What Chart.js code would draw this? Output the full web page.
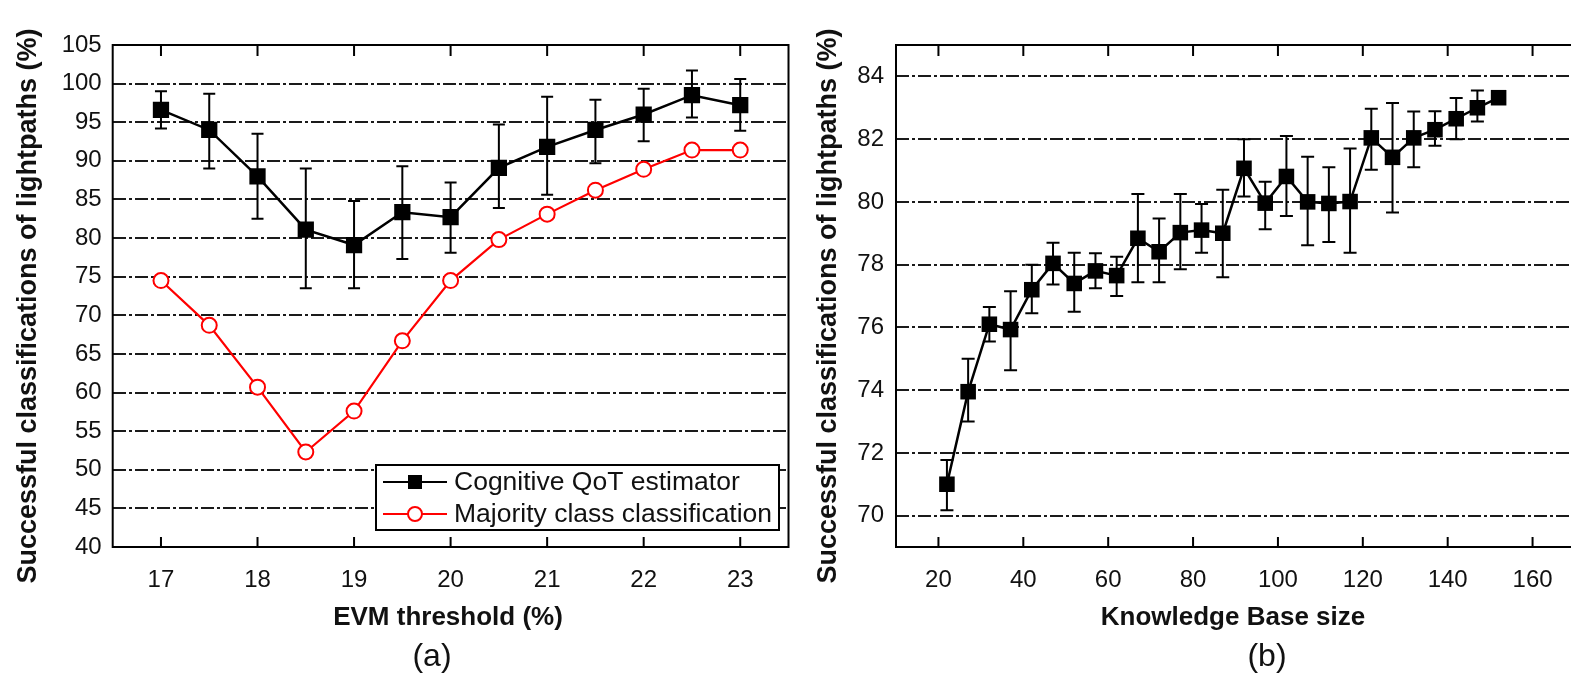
<!DOCTYPE html>
<html><head><meta charset="utf-8">
<script src="https://cdn.jsdelivr.net/npm/chart.js@4.4.1/dist/chart.umd.min.js"></script>
<style>
html,body{margin:0;padding:0;background:#fff;overflow:hidden;width:1571px;height:677px;position:relative;}
#ca{position:absolute;left:0;top:0;}
#cb{position:absolute;left:800px;top:0;}
</style></head><body>
<canvas id="ca" width="800" height="677"></canvas>
<canvas id="cb" width="800" height="677"></canvas>
<script>
// ---------- Panel (a) data ----------
const evmThreshold = [17, 17.5, 18, 18.5, 19, 19.5, 20, 20.5, 21, 21.5, 22, 22.5, 23];
const cognitiveA   = [96.6, 94.0, 88.0, 81.1, 79.1, 83.35, 82.7, 89.1, 91.8, 94.0, 96.0, 98.5, 97.2];
const cognitiveALo = [94.2, 89.0, 82.5, 73.5, 73.5, 77.3, 78.1, 83.9, 85.6, 89.7, 92.55, 95.6, 93.9];
const cognitiveAHi = [99.0, 98.7, 93.5, 89.0, 84.8, 89.3, 87.2, 94.7, 98.3, 97.9, 99.35, 101.7, 100.6];
const majorityA    = [74.5, 68.7, 60.7, 52.3, 57.6, 66.7, 74.5, 79.8, 83.1, 86.2, 88.9, 91.4, 91.4];
const xTicksA = [17, 18, 19, 20, 21, 22, 23];
const yTicksA = [40, 45, 50, 55, 60, 65, 70, 75, 80, 85, 90, 95, 100, 105];

// ---------- Panel (b) data ----------
const kbSize = [22, 27, 32, 37, 42, 47, 52, 57, 62, 67, 72, 77, 82, 87, 92, 97, 102, 107, 112, 117, 122, 127, 132, 137, 142, 147, 152];
const cognitiveB   = [71.0, 73.95, 76.1, 75.93, 77.2, 78.04, 77.4, 77.8, 77.65, 78.84, 78.41, 79.02, 79.1, 79.0, 81.07, 79.96, 80.81, 80.0, 79.95, 80.01, 82.04, 81.42, 82.04, 82.3, 82.65, 83.0, 83.32];
const cognitiveBLo = [70.17, 73.0, 75.55, 74.63, 76.45, 77.37, 76.5, 77.25, 77.0, 77.44, 77.44, 77.85, 78.38, 77.6, 80.17, 79.13, 79.55, 78.62, 78.72, 78.38, 81.02, 79.66, 81.1, 81.79, 82.0, 82.56, 83.22];
const cognitiveBHi = [71.77, 75.0, 76.65, 77.15, 78.0, 78.7, 78.38, 78.36, 78.25, 80.25, 79.47, 80.25, 79.93, 80.39, 82.0, 80.64, 82.1, 81.44, 81.1, 81.7, 82.97, 83.15, 82.88, 82.89, 83.31, 83.55, 83.42];
const xTicksB = [20, 40, 60, 80, 100, 120, 140, 160];
const yTicksB = [70, 72, 74, 76, 78, 80, 82, 84];

const yTitle = 'Successful classifications of lightpaths (%)';
const FONT = "'Liberation Sans', Arial, Helvetica, sans-serif";

function pts(xs, ys){ return xs.map((x,i)=>({x:x, y:ys[i]})); }

function makeDeco(cfg){
  return {
    id: 'deco',
    beforeDatasetsDraw(chart){
      const ctx = chart.ctx, x = chart.scales.x, y = chart.scales.y;
      ctx.save();
      ctx.strokeStyle = '#000'; ctx.lineWidth = 2; ctx.setLineDash([]);
      cfg.errX.forEach((xv,i)=>{
        const px = x.getPixelForValue(xv);
        const pl = y.getPixelForValue(cfg.errLo[i]);
        const ph = y.getPixelForValue(cfg.errHi[i]);
        ctx.beginPath();
        ctx.moveTo(px, pl); ctx.lineTo(px, ph);
        ctx.moveTo(px-cfg.cap, pl); ctx.lineTo(px+cfg.cap, pl);
        ctx.moveTo(px-cfg.cap, ph); ctx.lineTo(px+cfg.cap, ph);
        ctx.stroke();
      });
      ctx.restore();
    },
    afterDatasetsDraw(chart){
      const ctx = chart.ctx, a = chart.chartArea, x = chart.scales.x;
      ctx.save();
      ctx.strokeStyle = '#000'; ctx.lineWidth = 2; ctx.setLineDash([]);
      ctx.strokeRect(a.left, a.top, a.right-a.left, a.bottom-a.top);
      ctx.beginPath();
      cfg.xTicks.forEach(v=>{
        const px = x.getPixelForValue(v);
        ctx.moveTo(px, a.bottom); ctx.lineTo(px, a.bottom-10);
        ctx.moveTo(px, a.top); ctx.lineTo(px, a.top+11);
      });
      ctx.stroke();
      ctx.restore();
    },
    afterDraw(chart){
      const ctx = chart.ctx;
      ctx.save();
      ctx.fillStyle = '#111';
      // y title
      ctx.save();
      ctx.translate(cfg.yTitleX, cfg.yTitleY);
      ctx.rotate(-Math.PI/2);
      ctx.font = 'bold 27px ' + FONT;
      ctx.textAlign = 'center'; ctx.textBaseline = 'middle';
      ctx.fillText(yTitle, 0, 0);
      ctx.restore();
      // x title
      ctx.font = 'bold 26px ' + FONT;
      ctx.textAlign = 'center'; ctx.textBaseline = 'middle';
      ctx.fillText(cfg.xTitle, cfg.xTitleX, 618);
      // panel label
      ctx.font = '32px ' + FONT;
      ctx.fillText(cfg.panel, cfg.panelX, 657);
      // legend
      if (cfg.legend){
        const L = cfg.legend;
        ctx.fillStyle = '#fff';
        ctx.fillRect(L.x, L.y, L.w, L.h);
        ctx.strokeStyle = '#000'; ctx.lineWidth = 2;
        ctx.strokeRect(L.x, L.y, L.w, L.h);
        chart.data.datasets.forEach((ds, i)=>{
          const ry = L.y + 17 + i*32;
          ctx.strokeStyle = ds.borderColor; ctx.lineWidth = 2;
          ctx.beginPath(); ctx.moveTo(L.x+7, ry); ctx.lineTo(L.x+71, ry); ctx.stroke();
          const mx = L.x + 39;
          if (ds.pointStyle === 'rect'){
            ctx.fillStyle = '#000'; ctx.fillRect(mx-7, ry-7, 14, 14);
          } else {
            ctx.fillStyle = '#fff'; ctx.beginPath(); ctx.arc(mx, ry, 7, 0, Math.PI*2);
            ctx.fill(); ctx.stroke();
          }
          ctx.fillStyle = '#111';
          ctx.font = '26.5px ' + FONT;
          ctx.textAlign = 'left'; ctx.textBaseline = 'middle';
          ctx.fillText(ds.label, L.x + 78, ry + 1);
        });
      }
      ctx.restore();
    }
  };
}

function scaleOpts(min, max, ticksArr, isX, size, pad){
  return {
    type: 'linear', min: min, max: max,
    afterBuildTicks: s => { s.ticks = ticksArr.map(v=>({value:v})); },
    afterFit: s => { if (isX) s.height = size; else s.width = size; },
    ticks: { color: '#111', font: { family: FONT, size: 24 }, padding: pad, autoSkip: false, maxRotation: 0 },
    grid: isX ? { display: false } : { display: true, drawTicks: false, color: '#1a1a1a', lineWidth: 2 },
    border: isX ? { display: false } : { display: false, dash: [13,3,3,3] }
  };
}

Chart.defaults.animation = false;

new Chart(document.getElementById('ca'), {
  type: 'line',
  data: {
    datasets: [
      { label: 'Cognitive QoT estimator', data: pts(evmThreshold, cognitiveA),
        borderColor: '#000', backgroundColor: '#000', borderWidth: 2.5,
        pointStyle: 'rect', pointRadius: 11.5, pointBorderWidth: 0, pointBackgroundColor: '#000' },
      { label: 'Majority class classification', data: pts(evmThreshold, majorityA),
        borderColor: '#ff0000', backgroundColor: '#fff', borderWidth: 2.2,
        pointStyle: 'circle', pointRadius: 7.5, pointBorderWidth: 2, pointBackgroundColor: '#fff', pointBorderColor: '#ff0000' }
    ]
  },
  options: {
    responsive: false, devicePixelRatio: 1, animation: false,
    layout: { padding: { left: 0, right: 7.3, top: 45, bottom: 0 } },
    plugins: { legend: { display: false }, tooltip: { enabled: false } },
    scales: {
      x: scaleOpts(16.5, 23.5, xTicksA, true, 130, 11),
      y: scaleOpts(40, 105, yTicksA, false, 112.7, 11)
    }
  },
  plugins: [makeDeco({ errX: evmThreshold, errLo: cognitiveALo, errHi: cognitiveAHi, cap: 6,
    xTicks: xTicksA, yTitleX: 29, yTitleY: 306, xTitle: 'EVM threshold (%)', xTitleX: 448,
    panel: '(a)', panelX: 432,
    legend: { x: 376, y: 465, w: 403, h: 65 } })]
});

new Chart(document.getElementById('cb'), {
  type: 'line',
  data: {
    datasets: [
      { label: 'Cognitive QoT estimator', data: pts(kbSize, cognitiveB),
        borderColor: '#000', backgroundColor: '#000', borderWidth: 2.5,
        pointStyle: 'rect', pointRadius: 11, pointBorderWidth: 0, pointBackgroundColor: '#000' }
    ]
  },
  options: {
    responsive: false, devicePixelRatio: 1, animation: false,
    layout: { padding: { left: 0, right: 25, top: 45, bottom: 0 } },
    plugins: { legend: { display: false }, tooltip: { enabled: false } },
    scales: {
      x: scaleOpts(10, 170, xTicksB, true, 130, 11),
      y: scaleOpts(69, 85, yTicksB, false, 96, 12)
    }
  },
  plugins: [makeDeco({ errX: kbSize, errLo: cognitiveBLo, errHi: cognitiveBHi, cap: 6.5,
    xTicks: xTicksB, yTitleX: 29, yTitleY: 306, xTitle: 'Knowledge Base size', xTitleX: 433,
    panel: '(b)', panelX: 467, legend: null })]
});
</script>
</body></html>
